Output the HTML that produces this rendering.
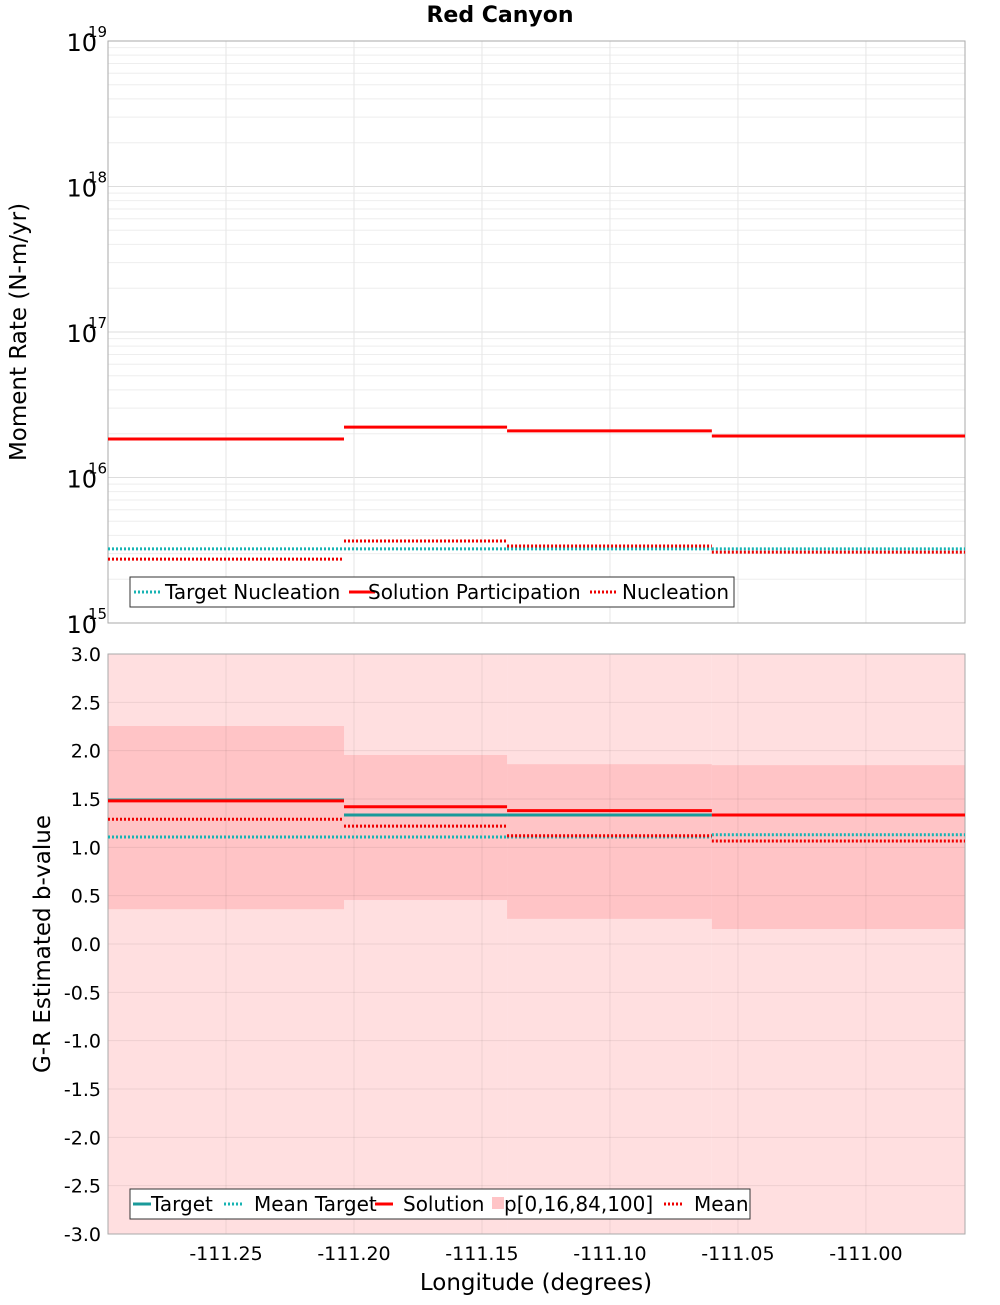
<!DOCTYPE html>
<html><head><meta charset="utf-8"><style>body{margin:0;background:#fff}svg text{font-family:"DejaVu Sans","Liberation Sans",sans-serif}</style></head>
<body>
<svg id="c" width="1000" height="1300" xmlns="http://www.w3.org/2000/svg"></svg>
<script>
const segEdges=[-111.2961,-111.2039,-111.1402,-111.0602,-110.9613];
const xTicks=[-111.25,-111.20,-111.15,-111.10,-111.05,-111.00];
const xTickLabels=["-111.25","-111.20","-111.15","-111.10","-111.05","-111.00"];
const solPart=[1.84e16,2.22e16,2.09e16,1.93e16];
const targetNuc=[3.23e15,3.23e15,3.23e15,3.23e15];
const nucleation=[2.75e15,3.66e15,3.38e15,3.07e15];
const bTarget=[1.49,1.335,1.335,1.335];
const bSolution=[1.48,1.42,1.38,1.335];
const bMeanTarget=[1.107,1.107,1.107,1.13];
const bMean=[1.29,1.22,1.12,1.065];
const p16=[0.36,0.455,0.26,0.155];
const p84=[2.255,1.955,1.86,1.85];
const p0=[-3,-3,-3,-3];
const p100=[3,3,3,3];
const bTicks=[3,2.5,2,1.5,1,0.5,0,-0.5,-1,-1.5,-2,-2.5,-3];
const NS="http://www.w3.org/2000/svg",svg=document.getElementById('c');
const L=108,R=965;
const X=v=>L+(v-segEdges[0])/(segEdges[4]-segEdges[0])*(R-L);
const T0=41,T1=623,B0=654,B1=1234;
const YT=v=>T1-(Math.log10(v)-15)/4*(T1-T0);
const YB=v=>B0+(3-v)/6*(B1-B0);
function el(t,a,n,txt){const e=document.createElementNS(NS,t);for(const k in a)e.setAttribute(k,a[k]);if(txt!==undefined)e.textContent=txt;svg.appendChild(e);return e;}
el('text',{x:500,y:22,'text-anchor':'middle','font-size':22,'font-weight':'bold'},'chart-title','Red Canyon');
el('rect',{x:L,y:T0,width:R-L,height:T1-T0,fill:'#fff'},'top-plot-bg');
for(let d=15;d<19;d++)for(let m=1;m<10;m++){const y=YT(m*Math.pow(10,d));el('line',{x1:L,x2:R,y1:y,y2:y,stroke:m==1?'#ddd':'#eee','stroke-width':1},'top-gridline');}
xTicks.forEach(v=>el('line',{x1:X(v),x2:X(v),y1:T0,y2:T1,stroke:'#e6e6e6'},'top-vgrid'));
el('rect',{x:L,y:T0,width:R-L,height:T1-T0,fill:'none',stroke:'#aaa'},'top-plot-border');
for(let d=15;d<=19;d++){const y=YT(Math.pow(10,d));el('text',{x:97,y:y+10,'text-anchor':'end','font-size':24},'top-y-tick','10');el('text',{x:88,y:y-4,'font-size':15},'top-y-tick-exp',String(d));}
el('text',{x:26,y:332,'text-anchor':'middle','font-size':23,transform:'rotate(-90 26 332)'},'top-y-axis-title','Moment Rate (N-m/yr)');
function steps(arr,Y,color,dash,w,name){arr.forEach((v,i)=>{const a={x1:X(segEdges[i]),x2:X(segEdges[i+1]),y1:Y(v),y2:Y(v),stroke:color,'stroke-width':w};if(dash)a['stroke-dasharray']=dash;el('line',a,name);});}
steps(targetNuc,YT,'#17b3b3','2,2',3,'target-nucleation-line');
steps(solPart,YT,'#f00',null,3,'solution-participation-line');
steps(nucleation,YT,'#e00','2,2',3,'nucleation-line');
el('rect',{x:130,y:577,width:604,height:30,fill:'#fff',stroke:'#333'},'top-legend');
[[134,165,'Target Nucleation','#17b3b3','2,2'],[349,368,'Solution Participation','#f00',null],[590,622,'Nucleation','#e00','2,2']].forEach(([x,tx,t,c,d])=>{const a={x1:x,x2:x+26,y1:592,y2:592,stroke:c,'stroke-width':3};if(d)a['stroke-dasharray']=d;el('line',a,'legend-swatch');el('text',{x:tx,y:599,'font-size':20},'legend-entry',t);});
p0.forEach((v,i)=>el('rect',{x:X(segEdges[i]),y:YB(p100[i]),width:X(segEdges[i+1])-X(segEdges[i]),height:YB(v)-YB(p100[i]),fill:'#ffdfe0'},'p0-100-band'));
p16.forEach((v,i)=>el('rect',{x:X(segEdges[i]),y:YB(p84[i]),width:X(segEdges[i+1])-X(segEdges[i]),height:YB(v)-YB(p84[i]),fill:'#ffc4c6'},'p16-84-band'));
bTicks.forEach(v=>{el('line',{x1:L,x2:R,y1:YB(v),y2:YB(v),stroke:'rgba(0,0,0,0.07)'},'bottom-gridline');el('text',{x:101,y:YB(v)+7,'text-anchor':'end','font-size':19},'bottom-y-tick',v.toFixed(1));});
xTicks.forEach((v,i)=>{el('line',{x1:X(v),x2:X(v),y1:B0,y2:B1,stroke:'rgba(0,0,0,0.07)'},'bottom-vgrid');el('text',{x:X(v),y:1260,'text-anchor':'middle','font-size':19},'x-tick',xTickLabels[i]);});
el('rect',{x:L,y:B0,width:R-L,height:B1-B0,fill:'none',stroke:'#aaa'},'bottom-plot-border');
el('text',{x:50,y:944,'text-anchor':'middle','font-size':23,transform:'rotate(-90 50 944)'},'bottom-y-axis-title','G-R Estimated b-value');
el('text',{x:536,y:1290,'text-anchor':'middle','font-size':23},'x-axis-title','Longitude (degrees)');
steps(bTarget,YB,'#1a9a9a',null,3,'target-line');
steps(bMeanTarget,YB,'#17b3b3','2,2',3,'mean-target-line');
steps(bSolution,YB,'#f00',null,3,'solution-line');
steps(bMean,YB,'#e00','2,2',3,'mean-line');
el('rect',{x:130,y:1189,width:620,height:30,fill:'#fff',stroke:'#333'},'bottom-legend');
[[133,151,'Target','#1a9a9a',null,0],[224,254,'Mean Target','#17b3b3','2,2',0],[375,403,'Solution','#f00',null,0],[490,504,'p[0,16,84,100]','#ffc4c6',null,1],[664,694,'Mean','#e00','2,2',0]].forEach(([x,tx,t,c,d,sq])=>{if(sq)el('rect',{x:x+2,y:1197,width:12,height:12,fill:c},'legend-swatch');else{const a={x1:x,x2:x+18,y1:1204,y2:1204,stroke:c,'stroke-width':3};if(d)a['stroke-dasharray']=d;el('line',a,'legend-swatch');}el('text',{x:tx,y:1211,'font-size':20},'legend-entry',t);});
</script>
</body></html>
